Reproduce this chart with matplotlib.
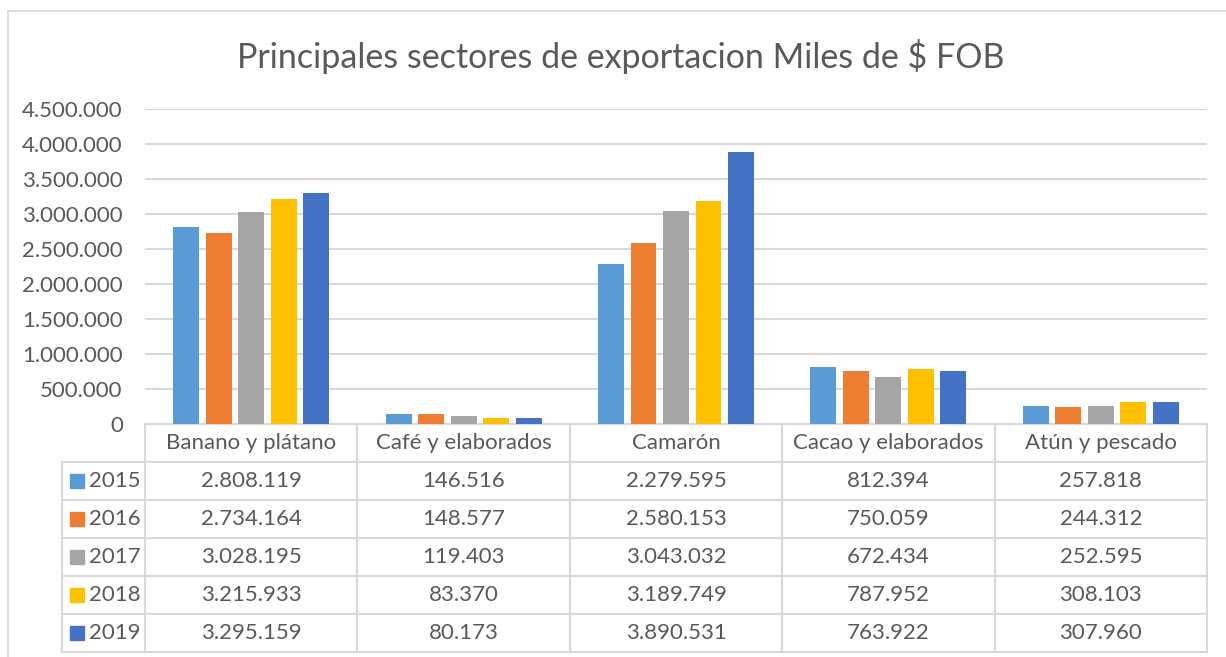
import matplotlib.pyplot as plt
from matplotlib.patches import Rectangle
from matplotlib.lines import Line2D

# categories and yearly series (miles de $ FOB)
categorias = ['Banano y plátano', 'Café y elaborados', 'Camarón', 'Cacao y elaborados', 'Atún y pescado']
anios = ['2015', '2016', '2017', '2018', '2019']
v2015 = [2808119, 146516, 2279595, 812394, 257818]
v2016 = [2734164, 148577, 2580153, 750059, 244312]
v2017 = [3028195, 119403, 3043032, 672434, 252595]
v2018 = [3215933, 83370, 3189749, 787952, 308103]
v2019 = [3295159, 80173, 3890531, 763922, 307960]
series = [v2015, v2016, v2017, v2018, v2019]
colores = ['#5b9bd5', '#ed7d31', '#a5a5a5', '#ffc000', '#4472c4']
y_ticks = [0, 500000, 1000000, 1500000, 2000000, 2500000, 3000000, 3500000, 4000000, 4500000]

plt.rcParams['font.family'] = ['Lato', 'DejaVu Sans']
txt = '#595959'
linea = '#d9d9d9'
fs = 16

W, H = 1226, 657
fig = plt.figure(figsize=(W / 100, H / 100), dpi=100)

# plot area in pixels
x0, x1 = 145, 1207
y_top, y_zero = 109, 424
ax = fig.add_axes([x0 / W, 1 - y_zero / H, (x1 - x0) / W, (y_zero - y_top) / H])
ax.set_xlim(0, len(categorias))
ax.set_ylim(0, 4500000)

def fmt(v):
    return f'{v:,}'.replace(',', '.')

# bars
paso = 0.153
ancho = 0.122
for i, (vals, c) in enumerate(zip(series, colores)):
    xs = [k + 0.5 + (i - 2) * paso for k in range(len(categorias))]
    ax.bar(xs, vals, width=ancho, color=c, zorder=3)

ax.set_yticks(y_ticks)
ax.set_yticklabels([fmt(t) for t in y_ticks], color=txt, fontsize=fs)
ax.tick_params(axis='y', length=0, pad=16)
ax.set_xticks([])
ax.grid(axis='y', color=linea, linewidth=1.5, zorder=0)
for s in ax.spines.values():
    s.set_visible(False)

# data table under the axis, x in data coords, y in axes coords
tr = ax.get_xaxis_transform()
fila = 38 / (y_zero - y_top)
lab_left = -(x0 - 62) / ((x1 - x0) / len(categorias))
n_rows = len(anios)
bottom = -fila * (n_rows + 1)

def hline(xa, xb, y):
    ax.add_line(Line2D([xa, xb], [y, y], transform=tr, color=linea, lw=1.5, clip_on=False))

def vline(x, ya, yb):
    ax.add_line(Line2D([x, x], [ya, yb], transform=tr, color=linea, lw=1.5, clip_on=False))

hline(0, len(categorias), 0)
for r in range(1, n_rows + 2):
    hline(lab_left, len(categorias), -fila * r)
for k in range(len(categorias) + 1):
    vline(k, 0, bottom)
vline(lab_left, -fila, bottom)

for k, cat in enumerate(categorias):
    ax.text(k + 0.5, -fila * 0.5, cat, transform=tr, ha='center', va='center',
            color=txt, fontsize=fs)
    for r, vals in enumerate(series):
        ax.text(k + 0.5, -fila * (r + 1.5), fmt(vals[k]), transform=tr, ha='center',
                va='center', color=txt, fontsize=fs)

# legend keys inside the table
col_w = (x1 - x0) / len(categorias)
key_w = 14 / col_w
key_h = 14 / (y_zero - y_top)
for r, (a, c) in enumerate(zip(anios, colores)):
    yc = -fila * (r + 1.5)
    ax.add_patch(Rectangle((lab_left + 8 / col_w, yc - key_h / 2), key_w, key_h,
                           transform=tr, color=c, clip_on=False))
    ax.text(lab_left + 27 / col_w, yc, a, transform=tr, ha='left', va='center',
            color=txt, fontsize=fs)

# title
fig.text(621 / W, 1 - 57 / H, 'Principales sectores de exportacion Miles de $ FOB',
         ha='center', va='center', color=txt, fontsize=24.5)

# chart frame (top and left edges visible)
fig.add_artist(Line2D([8 / W, 8 / W], [0, 1 - 11 / H], color=linea, lw=1.2))
fig.add_artist(Line2D([8 / W, 1], [1 - 11 / H, 1 - 11 / H], color=linea, lw=1.2))

fig.savefig('out.png', dpi=100, facecolor='white')
